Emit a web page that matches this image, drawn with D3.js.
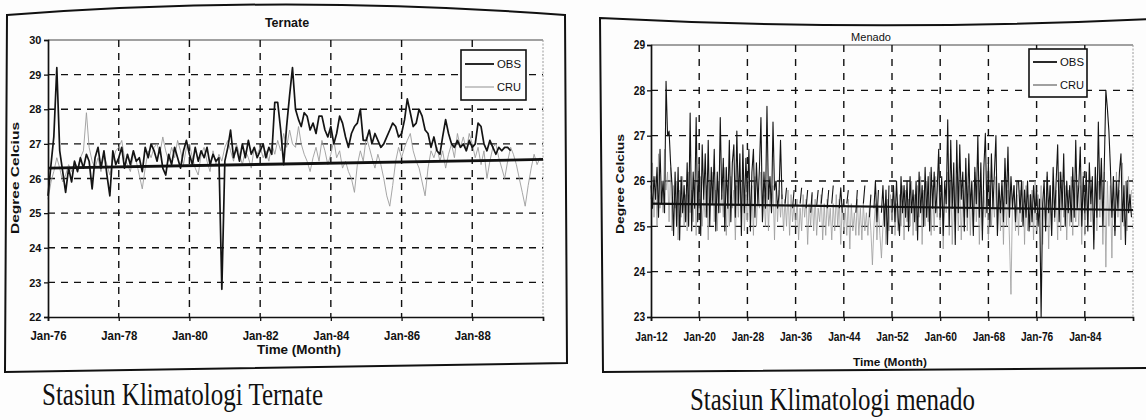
<!DOCTYPE html>
<html>
<head>
<meta charset="utf-8">
<script src="https://cdn.jsdelivr.net/npm/d3@7"></script>
<style>
  html, body { margin: 0; padding: 0; background: #fdfdfd; }
  svg { display: block; }
</style>
</head>
<body>
<svg id="fig" width="1146" height="420"></svg>
<script>
// ---------- Ternate: monthly mean temperature, Jan 1976 - Dec 1989 ----------
const ternateStartYear = 1976;
const ternateObs = [
  25.5, 26.4, 27.2, 29.2, 26.8, 26.2, 25.6, 26.3, 25.9, 26.5, 26.2, 26.6,
  26.3, 26.7, 26.5, 25.7, 26.6, 26.9, 26.3, 26.8, 26.1, 25.5, 26.8, 26.4,
  26.6, 26.9, 26.3, 26.7, 26.4, 26.8, 26.5, 26.6, 26.2, 26.9, 26.6, 27.0,
  26.8, 26.5, 26.9, 26.3, 26.1, 26.7, 26.4, 26.9, 26.6, 26.3, 26.8, 27.1,
  26.7, 26.4, 26.9, 26.5, 26.8, 26.6, 26.9, 26.4, 26.7, 26.5, 26.6, 22.8,
  26.5, 26.9, 27.4, 26.6, 26.9, 26.5, 27.0, 26.6, 27.1, 26.7, 26.9, 26.6,
  26.8, 27.0, 26.6, 26.9, 26.7, 28.2, 28.2, 27.4, 26.4, 27.5, 28.4, 29.2,
  28.0, 27.7, 27.5, 27.9, 27.8, 27.4, 27.6, 27.3, 27.8, 27.8, 27.4, 27.2,
  27.5, 27.0, 27.3, 27.8, 27.6, 27.2, 26.9, 27.3, 27.5, 27.6, 28.0, 27.1,
  27.1, 27.4, 27.0, 27.3, 27.1, 26.9, 27.0, 27.2, 27.4, 27.6, 27.5, 27.2,
  27.3, 27.7, 28.3, 27.9, 27.5, 27.6, 28.0, 27.8, 27.4, 27.3, 26.9, 27.2,
  26.8, 26.7, 27.2, 27.7, 27.3, 27.0, 26.9, 27.1, 26.9, 27.0, 26.8, 27.1,
  26.9, 27.0, 27.6, 27.5, 27.0, 26.8, 27.1, 26.9, 26.7, 26.9, 26.8, 26.9,
  26.9, 26.8, null, null, null, null, null, null, null, null, null, null
];
const ternateCru = [
  25.4, 25.9, 26.2, 26.6, 26.3, 25.9, 26.1, 26.4, 26.2, 26.5, 26.3, 26.6,
  26.8, 27.9, 26.9, 26.5, 26.3, 26.6, 26.2, 26.7, 26.4, 26.1, 26.5, 26.8,
  26.9, 27.1, 26.6, 26.4, 26.2, 26.7, 26.5, 26.1, 25.7, 26.3, 26.8, 26.6,
  26.9, 27.0, 26.7, 27.2, 26.8, 26.5, 26.9, 26.6, 27.1, 26.8, 26.4, 26.9,
  27.0, 26.6, 26.3, 26.1, 26.7, 26.9, 26.5, 26.2, 26.8, 26.4, 26.7, 26.5,
  26.9, 27.1, 26.8, 26.5, 27.0, 26.7, 26.4, 26.8, 26.6, 26.3, 26.9, 26.7,
  26.9, 26.6, 26.8, 26.5, 27.0, 26.7, 27.1, 26.8, 27.3, 26.9, 27.4, 27.0,
  26.9, 27.5, 27.0, 26.7, 26.5, 26.2, 26.6, 26.9, 26.5, 27.1, 26.8, 26.4,
  26.7, 27.1, 26.6, 26.8, 26.3, 26.5, 26.2, 26.0, 25.6, 26.4, 26.8, 26.5,
  27.2, 26.9, 26.6, 26.3, 26.7, 26.4, 26.0, 25.5, 25.2, 25.8, 26.5, 26.9,
  26.6, 26.9, 27.1, 27.3, 26.8, 26.5, 26.3, 25.9, 25.5, 26.3, 26.8, 26.6,
  26.9, 26.5, 26.8, 26.3, 26.7, 27.0, 26.6, 27.3, 26.9, 27.2, 26.8, 27.3,
  27.0, 26.6, 26.9, 26.4, 26.8, 26.0, 26.5, 26.9, 27.0, 26.6, 26.3, 26.0,
  26.5, 26.9, 26.7, 26.4, 26.0, 25.6, 25.2, 25.8, 26.3, 26.7, 26.4, 26.6
];
const ternateTrend = [26.3, 26.55];          // linear trend, start and end
const ternateTickYears = [1976, 1978, 1980, 1982, 1984, 1986, 1988];
const ternateYTicks = [22, 23, 24, 25, 26, 27, 28, 29, 30];

// ---------- Menado: quarterly-sampled means, 1912 - 1991 ----------
const menadoStartYear = 1912;
const menadoObs = [
  25.9, 25.4, 26.1, 25.6,  26.3, 25.2, 26.7, 25.5,  26.0, 25.3, 28.2, 27.0,  27.1, 26.4, 25.9, 24.8,
  26.2, 25.0, 26.3, 24.7,  26.1, 25.3, 25.9, 25.1,  26.4, 25.0, 27.5, 24.9,  26.2, 25.4, 27.4, 25.1,
  26.5, 24.8, 26.8, 25.6,  26.6, 25.2, 26.9, 25.0,  26.3, 25.5, 26.7, 24.9,  26.2, 25.3, 27.4, 25.6,
  26.5, 24.9, 26.3, 25.4,  26.9, 25.1, 26.4, 26.8,  25.2, 27.1, 25.5, 26.6,  24.8, 26.8, 25.3, 26.5,
  25.6, 26.7, 24.9, 26.2,  26.7, 25.2, 26.4, 25.5,  26.3, 27.4, 25.1, 26.2,  25.4, 27.65, 25.6, 26.1,
  25.3, 27.3, 25.8, 26.0,  25.4, 25.7, 26.9, 25.6,
  // 1934 - 1955: broken record, short fragments only
  null, 25.5, 25.85, null,  null, null, 25.4, 25.8,  null, null, null, 25.5,  25.85, null, null, 25.4,
  25.8, null, 25.3, 25.75,  null, null, 25.45, 25.8,  null, 25.5, 25.85, null,  null, 25.4, 25.8, null,
  25.5, 25.9, null, null,  null, 25.4, 25.85, 25.3,  null, null, 25.5, 25.8,  null, null, null, null,
  25.3, 25.8, null, null,  null, 25.5, 25.9, null,  null, 25.2, 25.7, null,  25.4, 26.0, 25.1, 25.8,
  null, 25.3, 25.9, 25.0,  25.8, 24.6, 25.9, null,  25.3, 25.9, 25.1, 26.0,  25.2, 24.8, 26.1, 25.3,
  25.9, 25.2, 26.0, 24.9,  26.1, 25.3, 25.8, 25.1,
  26.0, 24.7, 26.2, 25.3,  25.9, 25.0, 26.3, 25.2,  26.1, 24.9, 26.3, 25.4,  26.2, 25.3, 25.8, 26.7,
  25.2, 26.1, 24.8, 26.0,  25.5, 27.35, 25.0, 26.9,  25.4, 26.4, 24.6, 26.9,  25.3, 26.8, 25.6, 26.2,
  24.9, 26.5, 25.2, 26.6,  25.4, 26.0, 24.8, 26.3,  25.5, 27.0, 25.2, 26.4,  24.7, 26.3, 27.05, 25.3,
  26.4, 25.0, 26.6, 25.4,  26.2, 27.0, 24.8, 25.95,  25.3, 26.0, 25.1, 26.5,  25.5, 26.75, 25.2, 26.1,
  25.4, 25.9, 25.1, 26.0,  26.0, 25.3, 26.0, 25.0,  25.8, 25.2, 26.0, 24.9,  25.7, 25.1, 25.9, 25.3,
  25.8, 25.0, 25.6, 23.0,  25.5, 26.0, 24.9, 26.2,  25.3, 25.9, 24.8, 26.3,  25.2, 26.0, 26.8, 25.1,
  26.2, 25.4, 26.6, 25.0,  26.0, 25.3, 25.9, 25.1,  26.3, 25.2, 26.9, 25.4,  25.9, 26.75, 25.0, 26.1,
  25.3, 26.2, 24.9, 26.4,  25.5, 26.1, 24.5, 26.3,  25.2, 27.3, 25.6, 26.5,  25.0, 26.4, 28.0, 27.6,
  27.1, 26.3, 25.2, 26.1,  24.8, 26.0, 25.4, 26.2,  26.6, 25.1, 25.9, 24.6,  26.0, 25.3, 25.7, 25.2
];
const menadoCru = [
  25.6, 26.4, 25.2, 26.1,  25.0, 26.6, 25.4, 26.0,  25.3, 26.7, 25.8, 26.2,  25.1, 26.3, 24.9, 25.9,
  25.4, 26.0, 24.7, 25.8,  25.2, 26.1, 25.0, 25.7,  24.9, 26.2, 25.3, 25.8,  25.1, 26.0, 24.8, 25.9,
  25.4, 26.1, 25.0, 25.6,  25.2, 25.9, 24.7, 26.0,  25.5, 26.2, 25.1, 25.8,  24.9, 26.0, 25.3, 25.7,
  25.2, 26.3, 24.8, 25.9,  25.0, 26.1, 25.4, 25.8,  24.7, 25.9, 25.2, 26.0,  25.3, 26.2, 24.9, 25.7,
  25.1, 26.0, 25.3, 25.9,  24.8, 26.1, 25.0, 25.8,  25.4, 26.2, 25.1, 25.7,  25.0, 26.0, 24.9, 25.8,
  25.3, 25.9, 24.7, 26.0,  25.1, 25.8, 25.2, 25.7,  24.9, 25.6, 25.0, 25.8,  24.8, 25.7, 25.1, 25.5,
  25.0, 25.6, 24.7, 25.4,  24.9, 25.7, 25.2, 25.6,  24.6, 25.5, 25.0, 25.7,  24.9, 25.6, 24.8, 25.4,
  25.1, 25.7, 24.7, 25.5,  24.8, 25.6, 25.0, 25.4,  24.7, 25.5, 24.9, 25.7,  25.0, 25.6, 24.6, 25.5,
  24.9, 25.4, 24.8, 25.6,  24.5, 25.5, 24.9, 25.3,  24.8, 25.6, 24.8, 25.4,  24.7, 25.5, 24.9, 25.3,
  24.8, 25.4, 24.9, 24.15,  25.0, 25.5, 24.7, 25.4,  24.8, 24.3, 25.0, 25.5,  24.6, 25.6, 24.9, 25.7,
  25.1, 25.8, 24.8, 25.5,  24.9, 25.7, 25.0, 25.9,  24.7, 25.8, 25.1, 25.6,  25.0, 26.0, 24.8, 25.7,
  24.9, 25.9, 25.2, 26.1,  24.6, 25.8, 25.0, 26.0,  25.1, 26.2, 24.8, 25.9,  24.9, 26.1, 25.2, 26.3,
  25.0, 26.0, 24.5, 25.8,  25.3, 26.2, 24.8, 26.0,  24.6, 25.9, 25.1, 26.1,  24.9, 26.0, 24.7, 25.8,
  25.2, 26.1, 24.9, 25.9,  24.8, 25.8, 25.0, 26.2,  25.1, 26.0, 24.6, 25.9,  24.9, 25.8, 25.2, 26.0,
  24.7, 25.9, 25.0, 25.7,  25.2, 26.1, 24.8, 25.8,  24.9, 25.9, 24.6, 26.0,  25.0, 25.8, 24.7, 23.5,
  25.6, 25.9, 24.9, 25.7,  24.8, 25.8, 25.1, 26.0,  24.6, 25.9, 24.9, 25.7,  25.0, 25.8, 24.7, 26.0,
  24.9, 25.7, 25.2, 25.9,  24.6, 25.8, 25.0, 26.1,  24.5, 25.9, 24.8, 26.0,  25.1, 25.8, 24.7, 26.2,
  24.9, 26.0, 25.2, 25.9,  24.7, 25.8, 25.0, 26.1,  24.8, 26.0, 25.1, 25.9,  25.0, 25.9, 24.6, 26.2,
  24.8, 26.1, 25.0, 25.9,  25.1, 25.8, 24.7, 26.3,  24.9, 26.0, 25.2, 26.1,  24.6, 26.2, 24.1, 26.0,
  25.0, 25.9, 24.3, 26.1,  24.9, 26.2, 25.2, 25.8,  24.7, 26.4, 25.0, 26.0,  24.9, 26.1, 25.3, 25.8
];
const menadoTrend = [25.5, 25.36];
const menadoTickYears = [1912, 1920, 1928, 1936, 1944, 1952, 1960, 1968, 1976, 1984];
const menadoYTicks = [23, 24, 25, 26, 27, 28, 29];

const seriesNames = ["OBS", "CRU"];
const captions = ["Stasiun Klimatologi Ternate", "Stasiun Klimatologi menado"];

// ---------- drawing ----------
const svg = d3.select("#fig");
const SANS = "'Liberation Sans', Arial, Helvetica, sans-serif";
const SERIF = "'Liberation Serif', 'Times New Roman', serif";
const fmtTick = d3.timeFormat("%b-%y");

function toPoints(values, startYear, stepMonths) {
  return values.map((v, i) => ({ date: new Date(startYear, i * stepMonths, 1), v }));
}

function drawPanel(cfg) {
  const g = svg.append("g");
  const x = d3.scaleTime().domain(cfg.xDomain).range([cfg.left, cfg.right]);
  const y = d3.scaleLinear().domain(cfg.yDomain).range([cfg.bottom, cfg.top]);
  const tickDates = cfg.tickYears.map(yr => new Date(yr, 0, 1));

  // outer frame of the figure panel
  g.append("path").attr("d", cfg.frame)
    .attr("fill", "none").attr("stroke", "#111").attr("stroke-width", 2);

  // plot-area border (top and right)
  g.append("line").attr("x1", cfg.left).attr("x2", cfg.right)
    .attr("y1", cfg.top).attr("y2", cfg.top)
    .attr("stroke", "#444").attr("stroke-width", 1);
  g.append("line").attr("x1", cfg.right).attr("x2", cfg.right)
    .attr("y1", cfg.top).attr("y2", cfg.bottom)
    .attr("stroke", "#9a9a9a").attr("stroke-width", 1).attr("stroke-dasharray", "2,1.5");

  // dashed grid
  const yInner = cfg.yTicks.filter(t => t !== cfg.yDomain[0] && t !== cfg.yDomain[1]);
  g.append("g").selectAll("line").data(yInner).join("line")
    .attr("x1", cfg.left).attr("x2", cfg.right)
    .attr("y1", d => y(d)).attr("y2", d => y(d))
    .attr("stroke", "#111").attr("stroke-width", 1.4).attr("stroke-dasharray", cfg.dash);
  g.append("g").selectAll("line").data(tickDates.slice(1)).join("line")
    .attr("x1", d => x(d)).attr("x2", d => x(d))
    .attr("y1", cfg.top).attr("y2", cfg.bottom)
    .attr("stroke", "#111").attr("stroke-width", 1.4).attr("stroke-dasharray", cfg.dash);

  // series
  const line = d3.line().defined(d => d.v != null)
    .x(d => x(d.date)).y(d => y(d.v));
  g.append("path").datum(toPoints(cfg.cru, cfg.startYear, cfg.step))
    .attr("d", line).attr("fill", "none")
    .attr("stroke", "#9c9c9c").attr("stroke-width", cfg.cruWidth).attr("stroke-linejoin", "round");
  g.append("path").datum(toPoints(cfg.obs, cfg.startYear, cfg.step))
    .attr("d", line).attr("fill", "none")
    .attr("stroke", "#141414").attr("stroke-width", cfg.obsWidth).attr("stroke-linejoin", "round");

  // trend line
  g.append("line")
    .attr("x1", x(cfg.xDomain[0])).attr("x2", x(cfg.xDomain[1]))
    .attr("y1", y(cfg.trend[0])).attr("y2", y(cfg.trend[1]))
    .attr("stroke", "#111").attr("stroke-width", cfg.trendWidth);

  // axes
  const yAxis = g.append("g").attr("transform", `translate(${cfg.left},0)`)
    .call(d3.axisLeft(y).tickValues(cfg.yTicks).tickSize(4).tickPadding(3).tickFormat(d3.format("d")));
  const xAxis = g.append("g").attr("transform", `translate(0,${cfg.bottom})`)
    .call(d3.axisBottom(x).tickValues(tickDates).tickSize(4).tickPadding(4).tickFormat(fmtTick));
  [yAxis, xAxis].forEach(a => {
    a.select(".domain").attr("stroke", "#111").attr("stroke-width", 1.7);
    a.selectAll(".tick line").attr("stroke", "#111").attr("stroke-width", 1.3);
    a.selectAll("text").attr("fill", "#111").attr("font-family", SANS).attr("font-weight", "bold");
  });
  yAxis.selectAll("text").attr("font-size", cfg.yLabelSize)
    .attr("transform", `scale(${cfg.yLabelScale},1)`);
  xAxis.selectAll("text").attr("font-size", cfg.xLabelSize)
    .attr("y", cfg.xLabelY).attr("dy", 0)
    .attr("transform", `scale(${cfg.xLabelScale},1)`);

  // titles
  g.append("text").text(cfg.title)
    .attr("x", cfg.titlePos[0]).attr("y", cfg.titlePos[1])
    .attr("text-anchor", "middle").attr("font-family", SANS)
    .attr("font-weight", cfg.titleWeight).attr("font-size", cfg.titleSize).attr("fill", "#111");
  g.append("text").text("Time (Month)")
    .attr("x", cfg.xTitlePos[0]).attr("y", cfg.xTitlePos[1])
    .attr("text-anchor", "middle").attr("font-family", SANS)
    .attr("font-weight", "bold").attr("font-size", cfg.xTitleSize).attr("fill", "#111")
    .attr("textLength", cfg.xTitleLen).attr("lengthAdjust", "spacingAndGlyphs");
  g.append("text").text("Degree Celcius")
    .attr("transform", `translate(${cfg.yTitlePos[0]},${cfg.yTitlePos[1]}) rotate(-90)`)
    .attr("text-anchor", "middle").attr("font-family", SANS)
    .attr("font-weight", "bold").attr("font-size", cfg.yTitleSize).attr("fill", "#111")
    .attr("textLength", cfg.yTitleLen).attr("lengthAdjust", "spacingAndGlyphs");

  // legend
  const L = cfg.legend;
  const lg = g.append("g");
  lg.append("rect").attr("x", L.x).attr("y", L.y).attr("width", L.w).attr("height", L.h)
    .attr("fill", "#fdfdfd").attr("stroke", "#111").attr("stroke-width", 1.6);
  const legendStyles = [
    { stroke: "#111", width: 1.8 },
    { stroke: L.cruColor, width: 1.1 }
  ];
  seriesNames.forEach((name, i) => {
    const ly = L.rowY[i];
    lg.append("line").attr("x1", L.lineX[0]).attr("x2", L.lineX[1])
      .attr("y1", ly).attr("y2", ly)
      .attr("stroke", legendStyles[i].stroke).attr("stroke-width", legendStyles[i].width);
    lg.append("text").text(name)
      .attr("x", L.textX).attr("y", ly + 4)
      .attr("font-family", SANS).attr("font-size", L.fontSize).attr("fill", "#111")
      .attr("font-weight", L.weight)
      .attr("textLength", L.textLen).attr("lengthAdjust", "spacingAndGlyphs");
  });

  // caption below the panel
  g.append("text").text(cfg.caption)
    .attr("x", cfg.captionPos[0]).attr("y", cfg.captionPos[1])
    .attr("font-family", SERIF).attr("font-size", cfg.captionSize).attr("fill", "#111")
    .attr("textLength", cfg.captionLen).attr("lengthAdjust", "spacingAndGlyphs");
}

drawPanel({
  title: "Ternate", caption: captions[0],
  obs: ternateObs, cru: ternateCru, trend: ternateTrend,
  startYear: ternateStartYear, step: 1,
  xDomain: [new Date(1976, 0, 1), new Date(1990, 0, 1)], yDomain: [22, 30],
  tickYears: ternateTickYears, yTicks: ternateYTicks,
  left: 48, right: 543, top: 40, bottom: 317,
  frame: "M7,15 Q286,-6 565,15 L567,363 L5,372 Z",
  dash: "7,6",
  obsWidth: 1.7, cruWidth: 0.9, trendWidth: 2.8,
  yLabelSize: 11.5, yLabelScale: 0.95,
  xLabelSize: 12, xLabelScale: 0.95, xLabelY: 23,
  titlePos: [287, 27], titleSize: 12.5, titleWeight: "bold",
  xTitlePos: [299, 354], xTitleSize: 12.5, xTitleLen: 84,
  yTitlePos: [19, 178], yTitleSize: 11.5, yTitleLen: 112,
  legend: { x: 461, y: 50, w: 65, h: 50, rowY: [64, 87], lineX: [465, 494], textX: 497,
            fontSize: 11.5, weight: "normal", textLen: 24, cruColor: "#9c9c9c" },
  captionPos: [42, 405], captionSize: 31, captionLen: 281
});

drawPanel({
  title: "Menado", caption: captions[1],
  obs: menadoObs, cru: menadoCru, trend: menadoTrend,
  startYear: menadoStartYear, step: 3,
  xDomain: [new Date(1912, 0, 1), new Date(1992, 0, 1)], yDomain: [23, 29],
  tickYears: menadoTickYears, yTicks: menadoYTicks,
  left: 651, right: 1133, top: 45, bottom: 317,
  frame: "M1150,19 Q873,32 600,18 L603,372 L1150,368",
  dash: "7,7",
  obsWidth: 1.1, cruWidth: 0.8, trendWidth: 2.2,
  yLabelSize: 12, yLabelScale: 0.85,
  xLabelSize: 12, xLabelScale: 0.85, xLabelY: 24,
  titlePos: [871, 41], titleSize: 11, titleWeight: "normal",
  xTitlePos: [890, 366], xTitleSize: 11, xTitleLen: 74,
  yTitlePos: [624, 184], yTitleSize: 11, yTitleLen: 100,
  legend: { x: 1029, y: 49, w: 58, h: 48, rowY: [62, 85], lineX: [1033, 1057], textX: 1060,
            fontSize: 11, weight: "normal", textLen: 24, cruColor: "#555" },
  captionPos: [690, 410], captionSize: 31, captionLen: 285
});
</script>
</body>
</html>
